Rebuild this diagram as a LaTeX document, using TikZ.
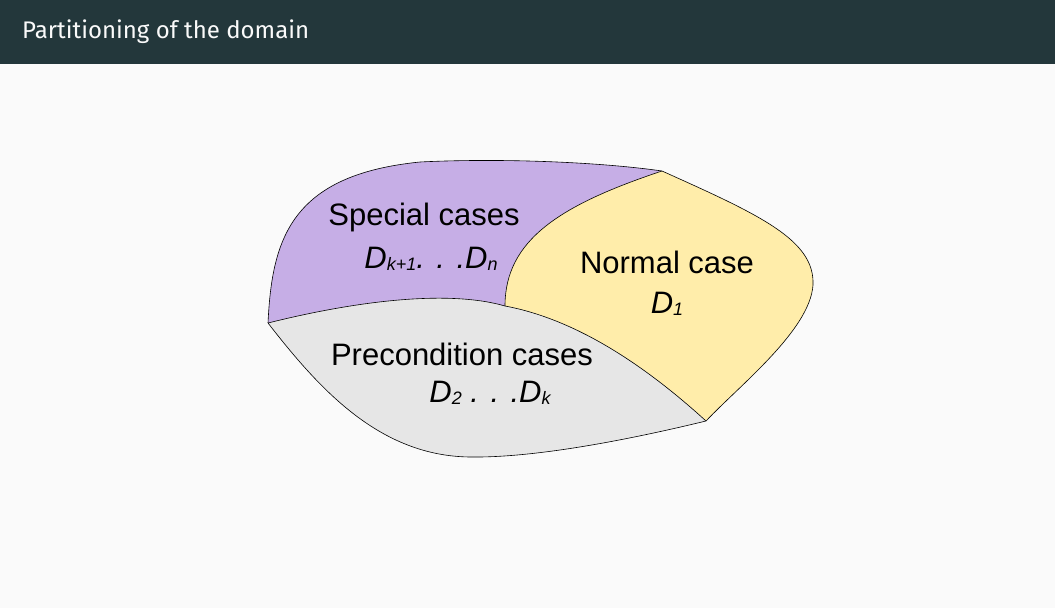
\documentclass[tikz,border=0pt]{standalone}
\usepackage{fontspec}
\setmainfont{Liberation Sans}
\newfontfamily\titlefont{Fira Sans}
\newcommand\subidx[1]{\raisebox{-2.5pt}{\fontsize{18}{20}\selectfont #1}}
\definecolor{bg}{HTML}{FAFAFA}
\definecolor{bar}{HTML}{23373B}
\definecolor{purp}{HTML}{C6AEE6}
\definecolor{yell}{HTML}{FFEDAA}
\definecolor{grey}{HTML}{E6E6E6}
\begin{document}
\begin{tikzpicture}[x=1pt,y=-1pt,
  lbl/.style={anchor=base,inner sep=0pt,font=\fontsize{31}{37}\selectfont},
  edge/.style={draw=black,line width=0.6pt,line join=round}]
\useasboundingbox (0,0) rectangle (1055,608);
\fill[bg] (0,0) rectangle (1055,608);
\fill[bar] (0,0) rectangle (1055,64);
\node[anchor=base west,inner sep=0pt,text=bg,font=\titlefont\fontsize{24}{28}\selectfont] (title) at (22,38) {Partitioning of the domain};
% key points
\coordinate (L) at (268,323);
\coordinate (T) at (662,171);
\coordinate (R) at (706,421);
\coordinate (M) at (505,306);
% special cases (purple)
\fill[purp] (L) .. controls (272,240) and (290,175) .. (420,162)
  .. controls (500,158) and (600,162) .. (T)
  .. controls (560,205) and (505,240) .. (M)
  .. controls (450,290) and (360,300) .. (L) -- cycle;
% normal case (yellow)
\fill[yell] (T) .. controls (760,215) and (815,240) .. (813,285)
  .. controls (810,330) and (740,385) .. (R)
  .. controls (650,370) and (580,320) .. (M)
  .. controls (505,240) and (560,205) .. (T) -- cycle;
% precondition cases (grey)
\fill[grey] (L) .. controls (360,300) and (450,290) .. (M)
  .. controls (580,320) and (650,370) .. (R)
  .. controls (640,437) and (540,458) .. (470,457)
  .. controls (380,456) and (320,390) .. (L) -- cycle;
% outlines
\draw[edge] (L) .. controls (272,240) and (290,175) .. (420,162)
  .. controls (500,158) and (600,162) .. (T)
  .. controls (760,215) and (815,240) .. (813,285)
  .. controls (810,330) and (740,385) .. (R)
  .. controls (640,437) and (540,458) .. (470,457)
  .. controls (380,456) and (320,390) .. (L);
\draw[edge] (L) .. controls (360,300) and (450,290) .. (M)
  .. controls (580,320) and (650,370) .. (R);
\draw[edge] (M) .. controls (505,240) and (560,205) .. (T);
% labels
\node[lbl] (sp) at (424,225) {Special cases};
\node[lbl] (spd) at (431,268) {\itshape D\subidx{k+1}. . .D\subidx{n}};
\node[lbl] (nc) at (667,273) {Normal case};
\node[lbl] (ncd) at (667,313) {\itshape D\subidx{1}};
\node[lbl] (pc) at (462,365) {Precondition cases};
\node[lbl] (pcd) at (490,402) {\itshape D\subidx{2} . . .D\subidx{k}};
\end{tikzpicture}
\end{document}
